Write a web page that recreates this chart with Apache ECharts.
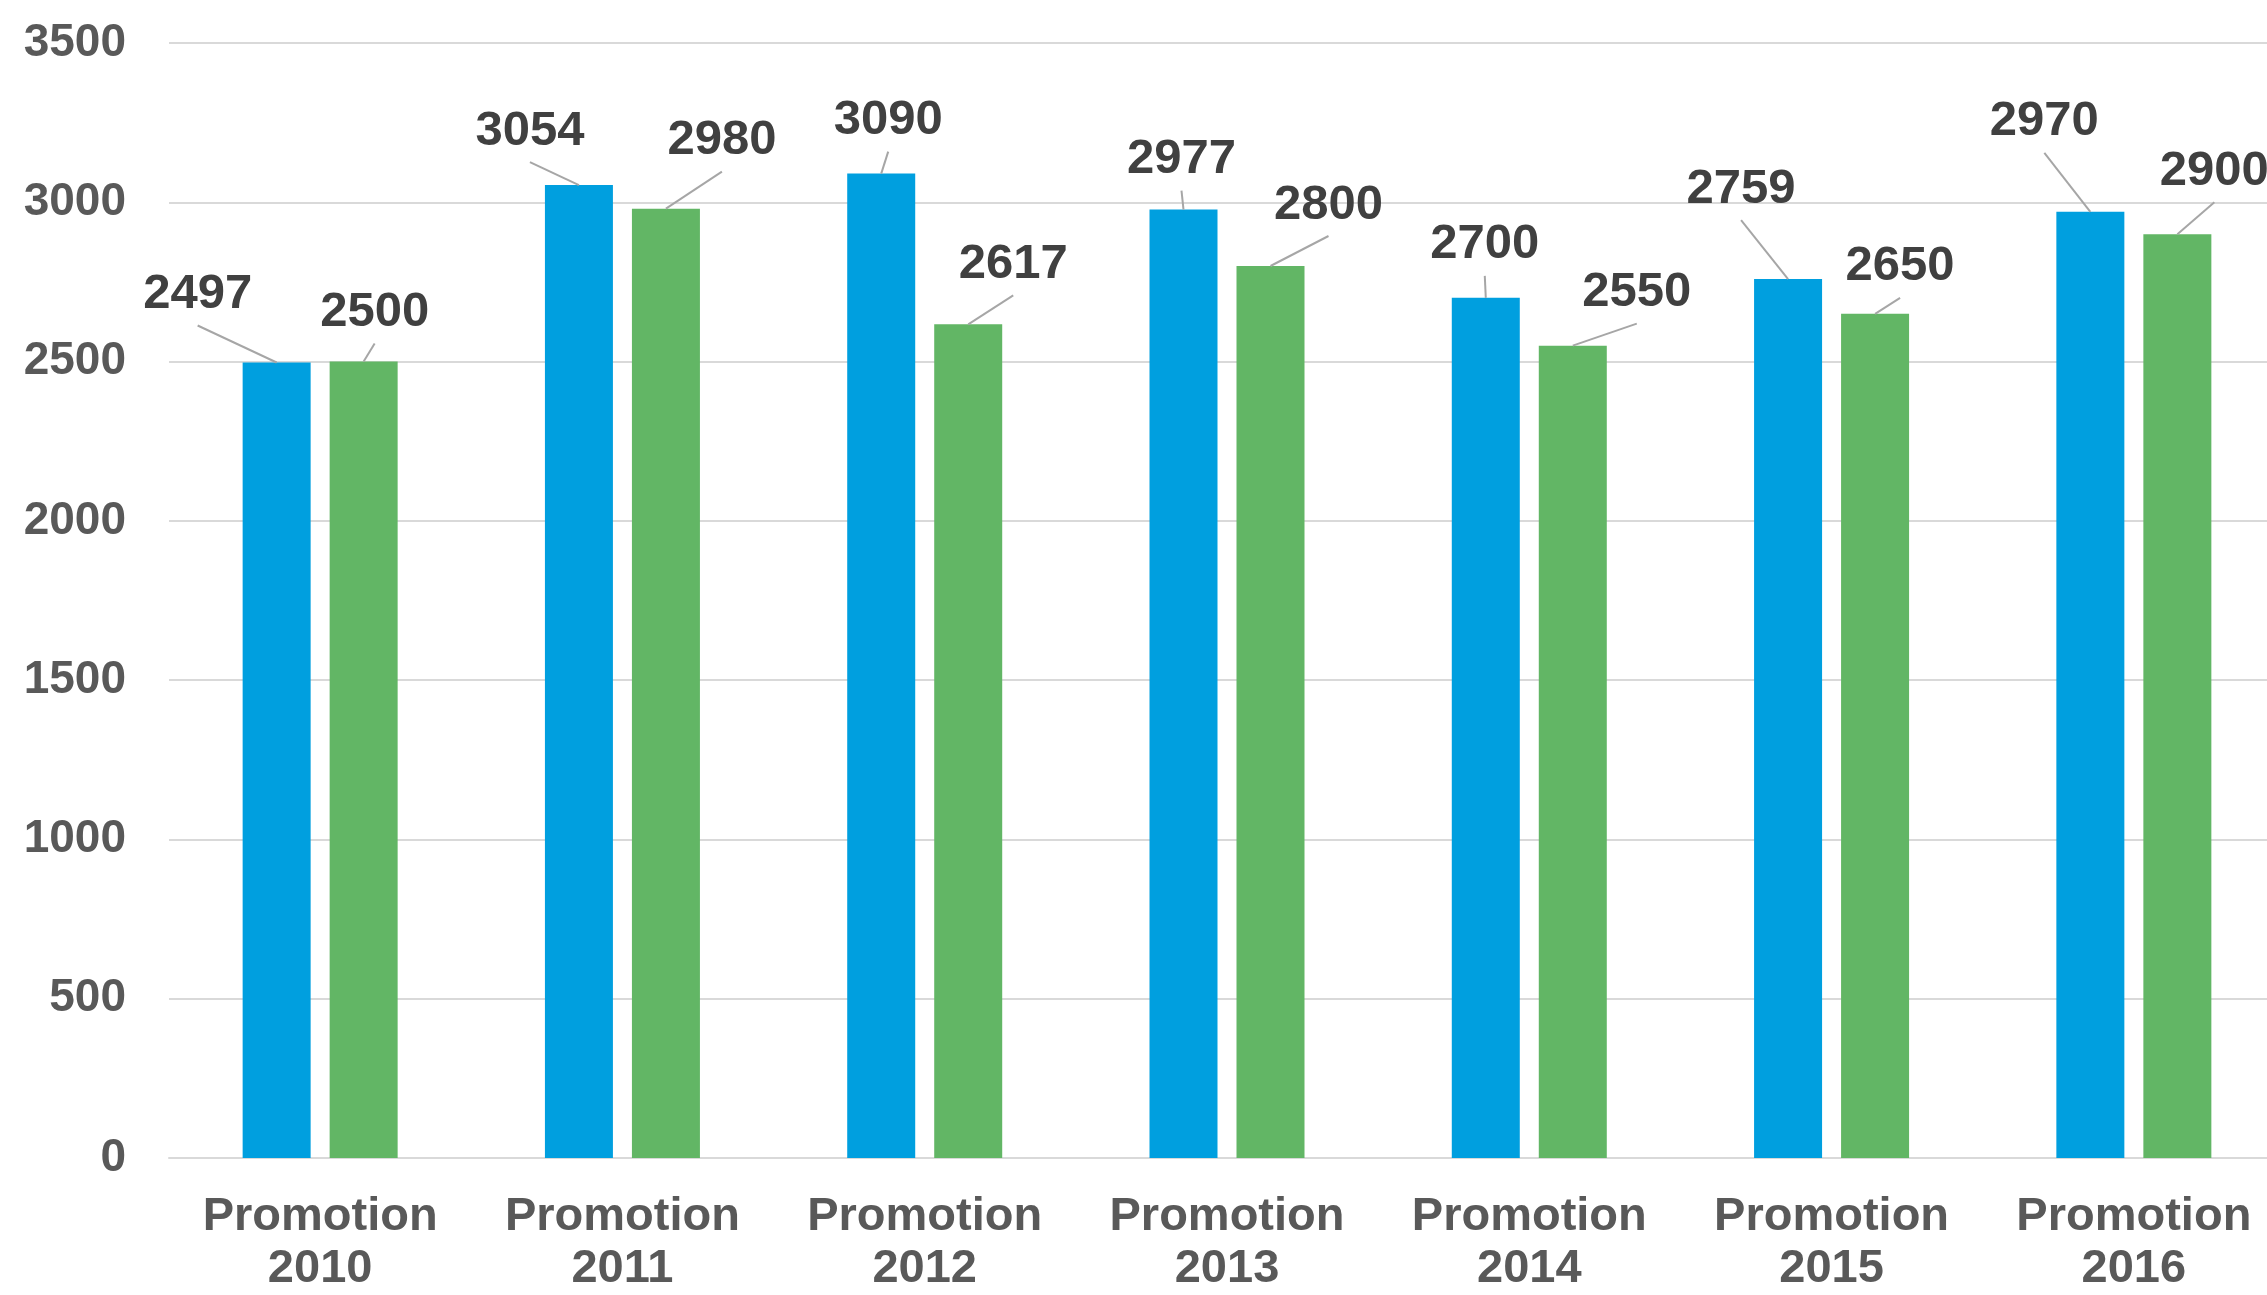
<!DOCTYPE html>
<html>
<head>
<meta charset="utf-8">
<title>Promotions</title>
<script src="https://cdn.jsdelivr.net/npm/echarts@6/dist/echarts.min.js"></script>
<style>
    html, body { margin: 0; padding: 0; background: #fff; overflow: hidden; }
    /* the plot runs a little past the right edge of the picture, as in the original */
    #main { width: 2285px; height: 1295px; }
</style>
</head>
<body>
<div id="main"></div>
<script>
var categories = ['Promotion\n2010', 'Promotion\n2011', 'Promotion\n2012', 'Promotion\n2013',
    'Promotion\n2014', 'Promotion\n2015', 'Promotion\n2016'];
var seriesA = [2497, 3054, 3090, 2977, 2700, 2759, 2970];
var seriesB = [2500, 2980, 2617, 2800, 2550, 2650, 2900];
var yTicks = { min: 0, max: 3500, interval: 500 };

// where each data label sits, in pixels from the top centre of its bar (Excel-style dragged labels)
var nudgeA = [[-79, -68], [-49, -54], [7, -53], [-2, -50], [-1, -53], [-47, -90], [-46, -90]];
var nudgeB = [[11, -49], [56, -68], [45, -60], [58, -61], [64, -53], [25, -47], [37, -63]];

var font = '"Liberation Sans", Arial, sans-serif';
var BAR_W = 68, BAR_GAP = 19;
var myChart = echarts.init(document.getElementById('main'));

function barSeries(name, values, color) {
    return {
        name: name,
        type: 'bar',
        data: values,
        barWidth: BAR_W,
        barGap: (BAR_GAP / BAR_W * 100) + '%',
        itemStyle: { color: color }
    };
}

// labels + leader lines, placed from the axis coordinates of each bar top
function labelSeries(values, side, nudge) {
    return {
        type: 'custom',
        silent: true,
        z: 5,
        data: values.map(function (v, i) { return [i, v]; }),
        encode: { x: 0, y: 1 },
        renderItem: function (params, api) {
            var p = api.coord([api.value(0), api.value(1)]);
            var bx = p[0] + side * (BAR_W + BAR_GAP) / 2;
            var by = p[1];
            var n = nudge[params.dataIndex];
            var lx = bx + n[0], ly = by + n[1];
            var children = [{
                type: 'text',
                style: {
                    text: String(api.value(1)),
                    x: lx, y: ly,
                    align: 'center', verticalAlign: 'middle',
                    fontFamily: font, fontWeight: 'bold', fontSize: 49,
                    fill: '#404040'
                }
            }];
            var sy = ly + 31;
            if (by - sy > 4) {
                children.push({
                    type: 'line',
                    shape: { x1: lx, y1: sy, x2: bx, y2: by },
                    style: { stroke: '#A6A6A6', lineWidth: 2 }
                });
            }
            return { type: 'group', children: children };
        }
    };
}

myChart.setOption({
    animation: false,
    grid: { left: 169, right: 0, top: 43, bottom: 136, containLabel: false },
    xAxis: {
        type: 'category',
        data: categories,
        axisTick: { show: false },
        axisLine: { lineStyle: { color: '#D9D9D9', width: 2 } },
        axisLabel: {
            interval: 0,
            margin: 33,
            fontFamily: font,
            fontWeight: 'bold',
            fontSize: 47,
            lineHeight: 52,
            color: '#595959'
        }
    },
    yAxis: {
        type: 'value',
        min: yTicks.min,
        max: yTicks.max,
        interval: yTicks.interval,
        axisLine: { show: false },
        axisTick: { show: false },
        splitLine: { lineStyle: { color: '#D9D9D9', width: 2 } },
        axisLabel: {
            margin: 43,
            fontFamily: font,
            fontWeight: 'bold',
            fontSize: 46,
            color: '#595959',
            formatter: function (v) { return String(v); }
        }
    },
    series: [
        barSeries('Series 1', seriesA, '#009FDF'),
        barSeries('Series 2', seriesB, '#62B665'),
        labelSeries(seriesA, -1, nudgeA),
        labelSeries(seriesB, 1, nudgeB)
    ]
});
</script>
</body>
</html>
